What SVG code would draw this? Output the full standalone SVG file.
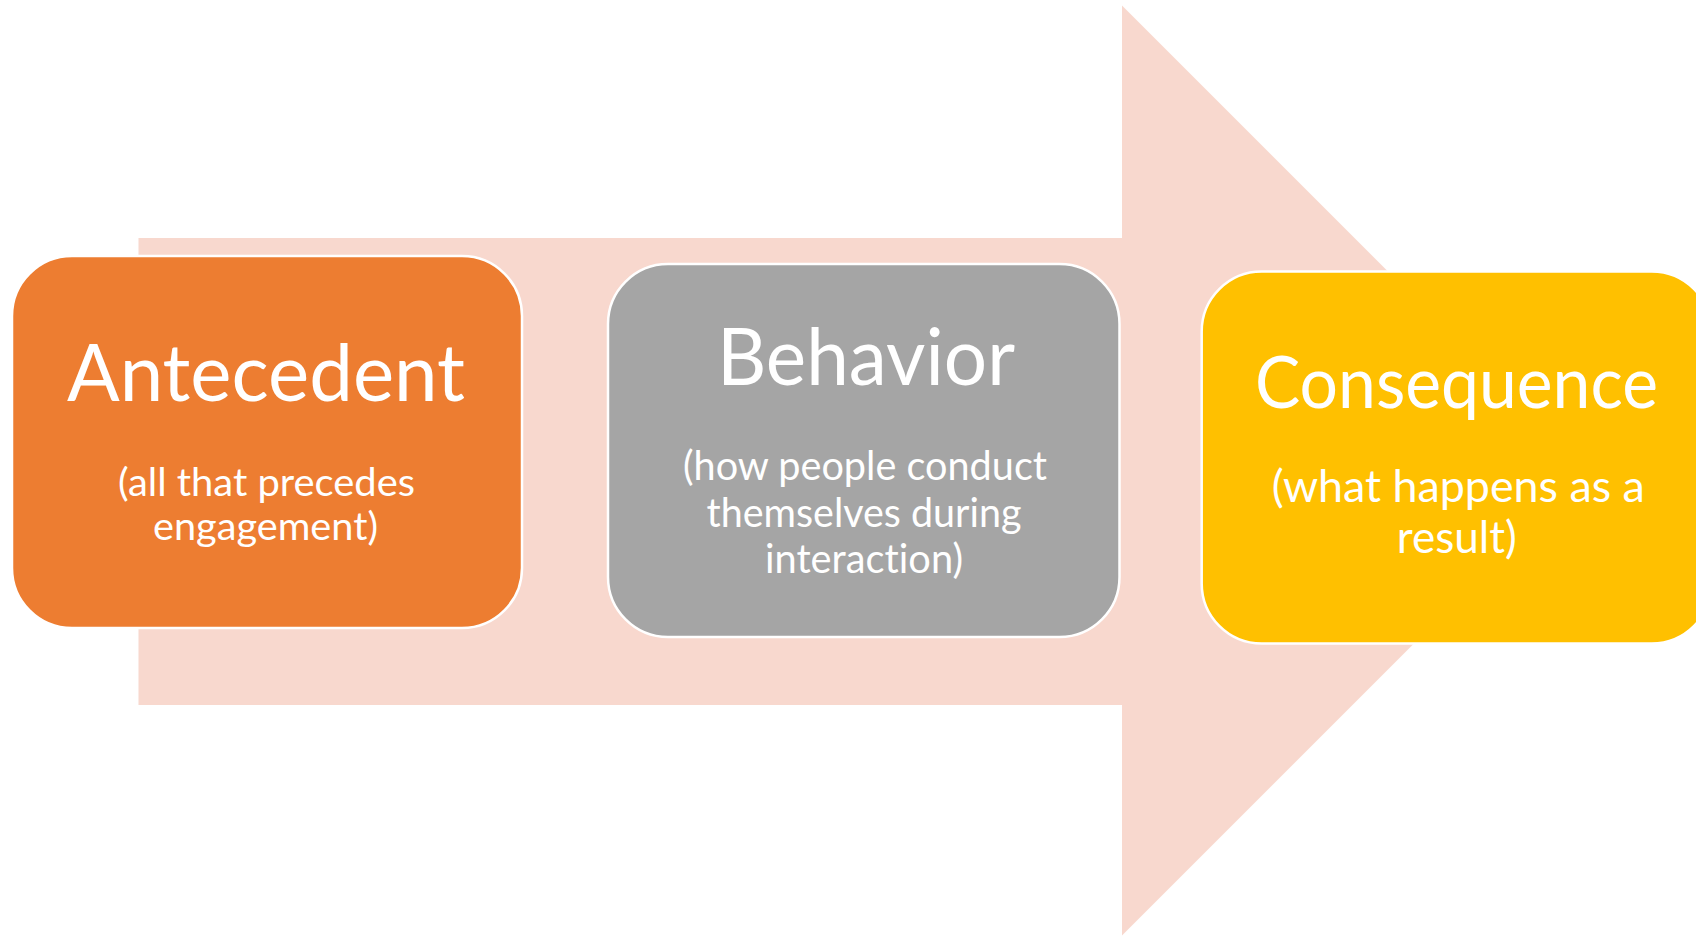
<svg xmlns="http://www.w3.org/2000/svg" width="1696" height="937" viewBox="0 0 1696 937">
<style>
.box{stroke:#FFFFFF;stroke-width:2.5}
.t{font-family:Lato,"Liberation Sans",sans-serif;fill:#FFFFFF;text-anchor:middle;font-variant-ligatures:none;font-feature-settings:"liga" 0,"clig" 0,"dlig" 0,"calt" 0}
</style>
<rect width="1696" height="937" fill="#FFFFFF"/>
<g id="connectors">
<polygon id="arrow" points="138.5,238 1122,238 1122,5.5 1587,470.5 1122,935.5 1122,705 138.5,705" fill="#F8D8CE"/>
</g>
<g id="antecedent">
<rect class="box" x="12" y="256" width="510" height="372" rx="60" ry="60" fill="#ED7D31"/>
<text class="t" x="266" y="401" font-size="79" textLength="398" lengthAdjust="spacingAndGlyphs">Antecedent</text>
<text class="t" x="266.5" y="496" font-size="39" textLength="297" lengthAdjust="spacingAndGlyphs">(all that precedes</text>
<text class="t" x="265.5" y="540" font-size="39" textLength="225" lengthAdjust="spacingAndGlyphs">engagement)</text>
</g>
<g id="behavior">
<rect class="box" x="608" y="264" width="511.5" height="373" rx="60" ry="60" fill="#A5A5A5"/>
<text class="t" x="866" y="385" font-size="79" textLength="298" lengthAdjust="spacingAndGlyphs">Behavior</text>
<text class="t" x="865" y="480" font-size="40" textLength="364" lengthAdjust="spacingAndGlyphs">(how people conduct</text>
<text class="t" x="864" y="527" font-size="40" textLength="315" lengthAdjust="spacingAndGlyphs">themselves during</text>
<text class="t" x="864" y="573" font-size="40" textLength="198" lengthAdjust="spacingAndGlyphs">interaction)</text>
</g>
<g id="consequence">
<rect class="box" x="1201.7" y="271.5" width="510" height="372" rx="60" ry="60" fill="#FFC000"/>
<text class="t" x="1456.5" y="408" font-size="71" textLength="403" lengthAdjust="spacingAndGlyphs">Consequence</text>
<text class="t" x="1458.3" y="502" font-size="44" textLength="373" lengthAdjust="spacingAndGlyphs">(what happens as a</text>
<text class="t" x="1456.8" y="553" font-size="44" textLength="120" lengthAdjust="spacingAndGlyphs">result)</text>
</g>
</svg>
